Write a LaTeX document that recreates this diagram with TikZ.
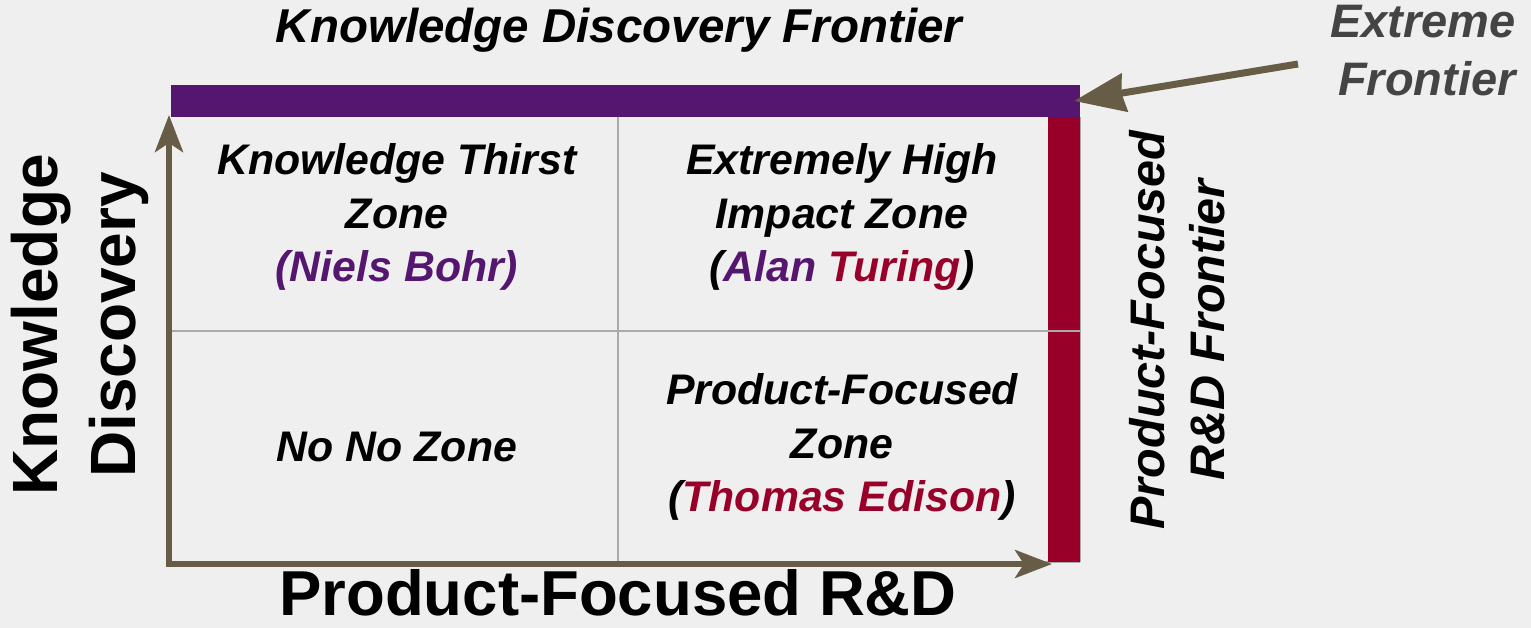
\documentclass[tikz,border=0pt]{standalone}
\usepackage{fontspec}
\setmainfont{Liberation Sans}
\usetikzlibrary{arrows.meta}
\definecolor{bgc}{RGB}{239,239,239}
\definecolor{kpurple}{RGB}{84,22,110}
\definecolor{kred}{RGB}{153,0,41}
\definecolor{axisc}{RGB}{103,92,70}
\definecolor{gridc}{RGB}{170,170,170}
\definecolor{darkt}{RGB}{68,68,68}
\tikzset{
  celltext/.style={font=\fontsize{42.8}{53.5}\selectfont\bfseries\itshape, align=center, inner sep=0pt},
  frontiertext/.style={font=\fontsize{47}{58}\selectfont\bfseries\itshape, align=center, inner sep=0pt},
  axistext/.style={font=\fontsize{64}{78}\selectfont\bfseries, align=center, inner sep=0pt},
  axislabel/.style={font=\fontsize{63.5}{78}\selectfont\bfseries, inner sep=0pt},
  gridline/.style={draw=gridc, line width=2pt},
  axisarrow/.style={draw=axisc, line width=6pt, -{Stealth[length=37pt,width=28pt,inset=9pt]}},
  pointarrow/.style={draw=axisc, line width=7pt, -{Stealth[length=51pt,width=38pt,inset=3pt]}},
}
\begin{document}
\begin{tikzpicture}[x=1pt,y=-1pt]
\fill[bgc] (0,0) rectangle (1531,628);
\useasboundingbox (0,0) rectangle (1531,628);
% grid coordinates
\coordinate (tl) at (171,117);
\coordinate (tr) at (1080,117);
\coordinate (bl) at (171,562);
\coordinate (br) at (1080,562);
\coordinate (ml) at (171,331);
\coordinate (mr) at (1080,331);
\coordinate (mt) at (618,117);
\coordinate (mb) at (618,562);
% grid
\draw[gridline] (ml) -- (mr);
\draw[gridline] (mt) -- (mb);
\draw[gridline] (bl) -- (br);
\draw[gridline] (tr) -- (br);
% frontier bars
\fill[kred] (1048,117) rectangle (1080,562);
\draw[gridline] (1048,331) -- (mr);
\fill[kpurple] (171,85) rectangle (1080,117);
% axes
\coordinate (origin) at (169,564);
\coordinate (yend) at (169,115);
\coordinate (xstart) at (166,564);
\coordinate (xend) at (1052,564);
\draw[axisarrow] (origin) -- (yend);
\draw[axisarrow] (xstart) -- (xend);
% extreme frontier pointer
\node[frontiertext, text=darkt, align=right, anchor=east] (extreme) at (1516,51) {Extreme\\Frontier};
\coordinate (ptrstart) at (1298,64);
\coordinate (corner) at (1074,101);
\draw[pointarrow] (ptrstart) -- (corner);
% titles
\node[frontiertext, font=\fontsize{47.5}{58}\selectfont\bfseries\itshape] (kdf) at (619,30) {Knowledge Discovery Frontier};
\node[axislabel, anchor=base] (pfrd) at (618,615) {Product-Focused R\&D};
\node[axistext, rotate=90] (kd) at (80,325) {Knowledge\\Discovery};
\node[frontiertext, rotate=90, font=\fontsize{48.5}{60}\selectfont\bfseries\itshape] (pff) at (1177,330) {Product-Focused\\R\&D Frontier};
% cells
\node[celltext] (c1) at (397,217) {Knowledge Thirst\\Zone\\\textcolor{kpurple}{(Niels Bohr)}};
\node[celltext] (c2) at (842,217) {Extremely High\\Impact Zone\\(\textcolor{kpurple}{Alan} \textcolor{kred}{Turing})};
\node[celltext] (c3) at (397,447) {No No Zone};
\node[celltext] (c4) at (842,447) {Product-Focused\\Zone\\(\textcolor{kred}{Thomas Edison})};
\end{tikzpicture}
\end{document}
